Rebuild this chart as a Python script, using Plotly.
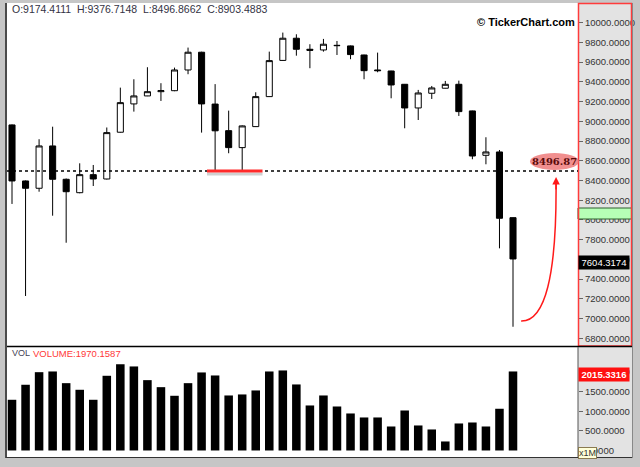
import plotly.graph_objects as go

# weekly candles, values (left to right)
opens = [8963, 8395, 8321, 8750, 8412, 8276, 8459, 8415, 8889, 9176,
         9257, 9300, 9310, 9520, 9700, 9174.4111, 8905, 8733, 8946, 9250,
         9617, 9842, 9730, 9723, 9770, 9764, 9672, 9520, 9510, 9375,
         9135, 9284, 9335, 9375, 9105, 8655, 8689, 8023]
highs = [8968, 8400, 8818, 8945, 8420, 8574, 8557, 8937, 9341, 9426,
         9548, 9386, 9544, 9747, 9705, 9376.7148, 9108, 8958, 9294, 9706,
         9899, 9882, 9781, 9835, 9814, 9768, 9675, 9696, 9512, 9378,
         9318, 9358, 9409, 9412, 9108, 8838, 8709, 8025]
lows = [8162, 7229, 8286, 8043, 7769, 8270, 8344, 8410, 8885, 9098,
        9255, 9206, 9305, 9477, 8885, 8496.8662, 8676, 8497, 8944, 9248,
        9615, 9665, 9538, 9706, 9672, 9629, 9426, 9497, 9233, 8929,
        9013, 9226, 9333, 9054, 8615, 8564, 7712, 6917]
closes = [8395, 8321, 8750, 8412, 8286, 8459, 8415, 8885, 9189, 9257,
          9300, 9310, 9520, 9700, 9176, 8903.4883, 8733, 8953, 9250, 9615,
          9842, 9730, 9720, 9781, 9767, 9676, 9513, 9513, 9368, 9135,
          9287, 9338, 9375, 9098, 8648, 8689, 8017, 7604.3174]
# volume in millions
volume = [1293, 1676, 1997, 2015, 1717, 1548, 1293, 1905, 2202, 2143,
          1794, 1615, 1395, 1717, 1990, 1913, 1403, 1429, 1531, 2015,
          2041, 1684, 1148, 1403, 1122, 944, 842, 842, 612, 1020,
          638, 536, 230, 689, 714, 612, 1064, 2015.3316]

price_ticks = list(range(6800, 10001, 200))
vol_ticks = [0, 500, 1000, 1500, 2000]
support = 8496.87
header = "O:9174.4111\u00a0\u00a0H:9376.7148\u00a0\u00a0L:8496.8662\u00a0\u00a0C:8903.4883"
vol_text = "VOLUME:1970.1587"

idx = list(range(len(opens)))

# page geometry (pixels) -> paper coords
W, H = 640, 467
ML, MR, MT, MB = 7, 62, 3, 10


def px(x):
    return (x - ML) / (W - ML - MR)


def py(y):
    return (H - MB - y) / (H - MT - MB)


FONT = "Liberation Sans, Arial, sans-serif"

fig = go.Figure()

fig.add_trace(go.Candlestick(
    x=idx, open=opens, high=highs, low=lows, close=closes,
    increasing=dict(line=dict(color="black", width=1), fillcolor="white"),
    decreasing=dict(line=dict(color="black", width=1), fillcolor="black"),
    whiskerwidth=0, showlegend=False, hoverinfo="skip",
    xaxis="x", yaxis="y",
))

fig.add_trace(go.Bar(
    x=idx, y=volume, marker=dict(color="black", line=dict(width=0)),
    showlegend=False, hoverinfo="skip", xaxis="x", yaxis="y2",
))

shapes = [
    # grey axis panel
    dict(type="rect", xref="paper", yref="paper", x0=px(578), x1=px(632),
         y0=py(457), y1=py(3), fillcolor="#e3e3e3", line=dict(width=0), layer="below"),
    # green marker on price axis
    dict(type="rect", xref="paper", yref="paper", x0=px(578), x1=px(632),
         y0=py(219), y1=py(208), fillcolor="#b6ffb6", line=dict(color="#2f5f2f", width=1)),
    # red frame around price axis
    dict(type="rect", xref="paper", yref="paper", x0=px(578.5), x1=px(631.5),
         y0=py(346), y1=py(3.5), line=dict(color="#ff3b3b", width=1.5)),
    # pane separator / borders
    dict(type="line", xref="paper", yref="paper", x0=px(7), x1=px(632),
         y0=py(346.5), y1=py(346.5), line=dict(color="black", width=1.5)),
    dict(type="line", xref="paper", yref="paper", x0=px(578), x1=px(578),
         y0=py(457), y1=py(347), line=dict(color="#555", width=1)),
    dict(type="line", xref="paper", yref="paper", x0=px(6), x1=px(6),
         y0=py(458), y1=py(3), line=dict(color="#222", width=1.5)),
    dict(type="line", xref="paper", yref="paper", x0=px(6), x1=px(632),
         y0=py(457.5), y1=py(457.5), line=dict(color="#333", width=1)),
    dict(type="line", xref="paper", yref="paper", x0=px(632.5), x1=px(632.5),
         y0=py(458), y1=py(3), line=dict(color="#888", width=1)),
    # dotted support line
    dict(type="line", xref="paper", yref="y", x0=0, x1=1, y0=support, y1=support,
         line=dict(color="black", width=1.5, dash="dot")),
    # red underline with soft shadow
    dict(type="line", xref="x", yref="y", x0=14.4, x1=18.5,
         ysizemode="pixel", yanchor=support, y0=-3, y1=-3,
         line=dict(color="rgba(120,120,120,0.35)", width=3)),
    dict(type="line", xref="x", yref="y", x0=14.4, x1=18.5, y0=support, y1=support,
         line=dict(color="#ff2a2a", width=3)),
    # pink ellipse behind price label
    dict(type="circle", xref="paper", yref="paper", x0=px(530), x1=px(579),
         y0=py(170), y1=py(153), fillcolor="rgba(236,105,105,0.75)", line=dict(width=0)),
    # red curved arrow from the low up to the label
    dict(type="path", xref="x", yref="y",
         path="M 37.6,6975 Q 40.25,6965 40.18,8375",
         line=dict(color="#ff1a1a", width=1.5)),
]

annotations = [
    dict(xref="paper", yref="paper", x=px(10), y=py(9), xanchor="left", yanchor="middle",
         text=header, showarrow=False, font=dict(family=FONT, size=10.5, color="#333344")),
    dict(xref="paper", yref="paper", x=px(577), y=py(22), xanchor="right", yanchor="middle",
         text="<b>\u00a9 TickerChart.com</b>", showarrow=False,
         font=dict(family=FONT, size=11, color="black")),
    dict(xref="paper", yref="paper", x=px(10), y=py(353), xanchor="left", yanchor="middle",
         text="VOL", showarrow=False, font=dict(family=FONT, size=9, color="#444455")),
    dict(xref="paper", yref="paper", x=px(31), y=py(353), xanchor="left", yanchor="middle",
         text=vol_text, showarrow=False, font=dict(family=FONT, size=9.5, color="#ff3838")),
    dict(xref="paper", yref="paper", x=px(554.5), y=py(161.5), xanchor="center", yanchor="middle",
         text="<b>%.2f</b>" % support, showarrow=False,
         font=dict(family="DejaVu Serif, serif", size=10, color="#5a0a0a")),
    # arrow head
    dict(xref="x", yref="y", x=40.18, y=8435, ax=0, ay=14, text="", showarrow=True,
         arrowhead=2, arrowsize=1, arrowwidth=1.5, arrowcolor="#ff1a1a"),
    # last price tag
    dict(xref="paper", yref="y", x=px(578), y=closes[-1], xanchor="left", yanchor="middle",
         yshift=-4, text="%.4f" % closes[-1], showarrow=False, bgcolor="black", borderpad=1,
         width=48, align="center", font=dict(family=FONT, size=9.5, color="white")),
    # last volume tag
    dict(xref="paper", yref="y2", x=px(578), y=volume[-1], xanchor="left", yanchor="middle",
         yshift=-3, text="<b>%.4f</b>" % volume[-1], showarrow=False, bgcolor="#ff1010",
         borderpad=1, width=48, align="center",
         font=dict(family=FONT, size=9.5, color="white")),
    dict(xref="paper", yref="paper", x=px(578), y=py(453), xanchor="left", yanchor="middle",
         text="x1M", showarrow=False, bgcolor="#ffffd8", bordercolor="#8a7a50", borderwidth=1,
         borderpad=0, font=dict(family=FONT, size=9, color="#333")),
]

axis_common = dict(
    side="right", anchor="x", showgrid=False, zeroline=False, showline=False,
    ticks="outside", ticklen=4, tickwidth=1, tickcolor="#666",
    tickformat=".4f", tickfont=dict(family=FONT, size=9.5, color="#333"),
    fixedrange=True,
)

fig.update_layout(
    width=W, height=H,
    margin=dict(l=ML, r=MR, t=MT, b=MB, pad=0),
    paper_bgcolor="#c6c6c6",
    plot_bgcolor="white",
    boxgap=0.36,
    bargap=0.37,
    xaxis=dict(range=[-0.37, 41.8], showticklabels=False, showgrid=False, zeroline=False,
               showline=False, ticks="", rangeslider=dict(visible=False), anchor="y2"),
    yaxis=dict(domain=[(457 - 346) / 454, 1], range=[6722, 10199], tickvals=price_ticks,
               **axis_common),
    yaxis2=dict(domain=[0, (457 - 347) / 454], range=[-166, 2639], tickvals=vol_ticks,
                **axis_common),
    shapes=shapes,
    annotations=annotations,
)

# the page body has a default 8px margin; drop it so the figure fills the window
fig.write_html("out.html", config={"displayModeBar": False},
               post_script="document.body.style.margin='0';")
